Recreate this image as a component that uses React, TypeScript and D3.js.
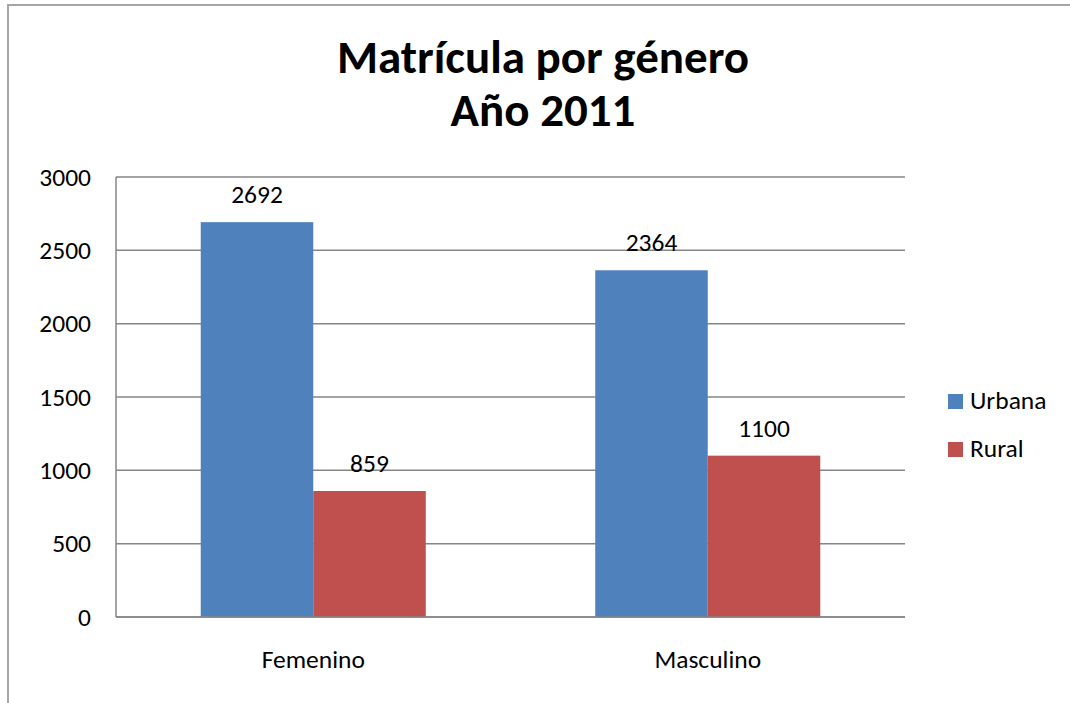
import React from "react";
import * as d3 from "d3";

const categories = ["Femenino", "Masculino"];
const seriesNames = ["Urbana", "Rural"];
const urbana = [2692, 2364];
const rural = [859, 1100];
const yTicks = [0, 500, 1000, 1500, 2000, 2500, 3000];
const colors = ["#4F81BD", "#C0504D"];

const W = 1070;
const H = 703;
const font = "Carlito, Calibri, 'Open Sans', sans-serif";

export default function App() {
  const left = 116, right = 905, top = 177, bottom = 617;
  const y = d3.scaleLinear().domain([0, 3000]).range([bottom, top]);
  const x0 = d3.scaleBand<string>().domain(categories).range([left, right]).padding(0);
  const x1 = d3
    .scaleBand<string>()
    .domain(seriesNames)
    .range([0, x0.bandwidth()])
    .paddingInner(0)
    .paddingOuter(0.753);
  const values = [urbana, rural];
  const fs = 25.5;

  return (
    <svg
      width={W}
      height={H}
      style={{ position: "absolute", left: 0, top: 0, background: "#fff" }}
    >
      <rect x={8} y={5} width={1080} height={720} fill="#fff" stroke="#A6A6A6" strokeWidth={2} />
      <text
        x={543}
        y={73}
        textAnchor="middle"
        fontFamily={font}
        fontWeight="bold"
        fontSize={47}
        fill="#000"
      >
        <tspan x={543}>Matrícula por género</tspan>
        <tspan x={543} dy={53}>Año 2011</tspan>
      </text>
      {yTicks.map((t) => (
        <g key={t}>
          <line x1={left} x2={right} y1={y(t)} y2={y(t)} stroke="#868686" strokeWidth={1.5} />
          <text
            x={91}
            y={y(t) + 8.5}
            textAnchor="end"
            fontFamily={font}
            fontSize={fs}
            fill="#000"
          >
            {t}
          </text>
        </g>
      ))}
      {categories.map((c, ci) => (
        <g key={c}>
          {seriesNames.map((s, si) => {
            const v = values[si][ci];
            const bx = (x0(c) as number) + (x1(s) as number);
            return (
              <g key={s}>
                <rect
                  x={bx}
                  y={y(v)}
                  width={x1.bandwidth()}
                  height={y(0) - y(v)}
                  fill={colors[si]}
                />
                <text
                  x={bx + x1.bandwidth() / 2}
                  y={y(v) - 19}
                  textAnchor="middle"
                  fontFamily={font}
                  fontSize={fs}
                  fill="#000"
                >
                  {v}
                </text>
              </g>
            );
          })}
          <text
            x={(x0(c) as number) + x0.bandwidth() / 2}
            y={668}
            textAnchor="middle"
            fontFamily={font}
            fontSize={fs}
            fill="#000"
          >
            {c}
          </text>
        </g>
      ))}
      <line x1={left} x2={left} y1={top} y2={bottom} stroke="#868686" strokeWidth={1.5} />
      <line x1={left} x2={right} y1={bottom} y2={bottom} stroke="#868686" strokeWidth={1.5} />
      {seriesNames.map((s, i) => (
        <g key={s}>
          <rect x={948} y={394 + i * 48} width={15} height={15} fill={colors[i]} />
          <text x={970} y={409 + i * 48} fontFamily={font} fontSize={fs} fill="#000">
            {s}
          </text>
        </g>
      ))}
    </svg>
  );
}
